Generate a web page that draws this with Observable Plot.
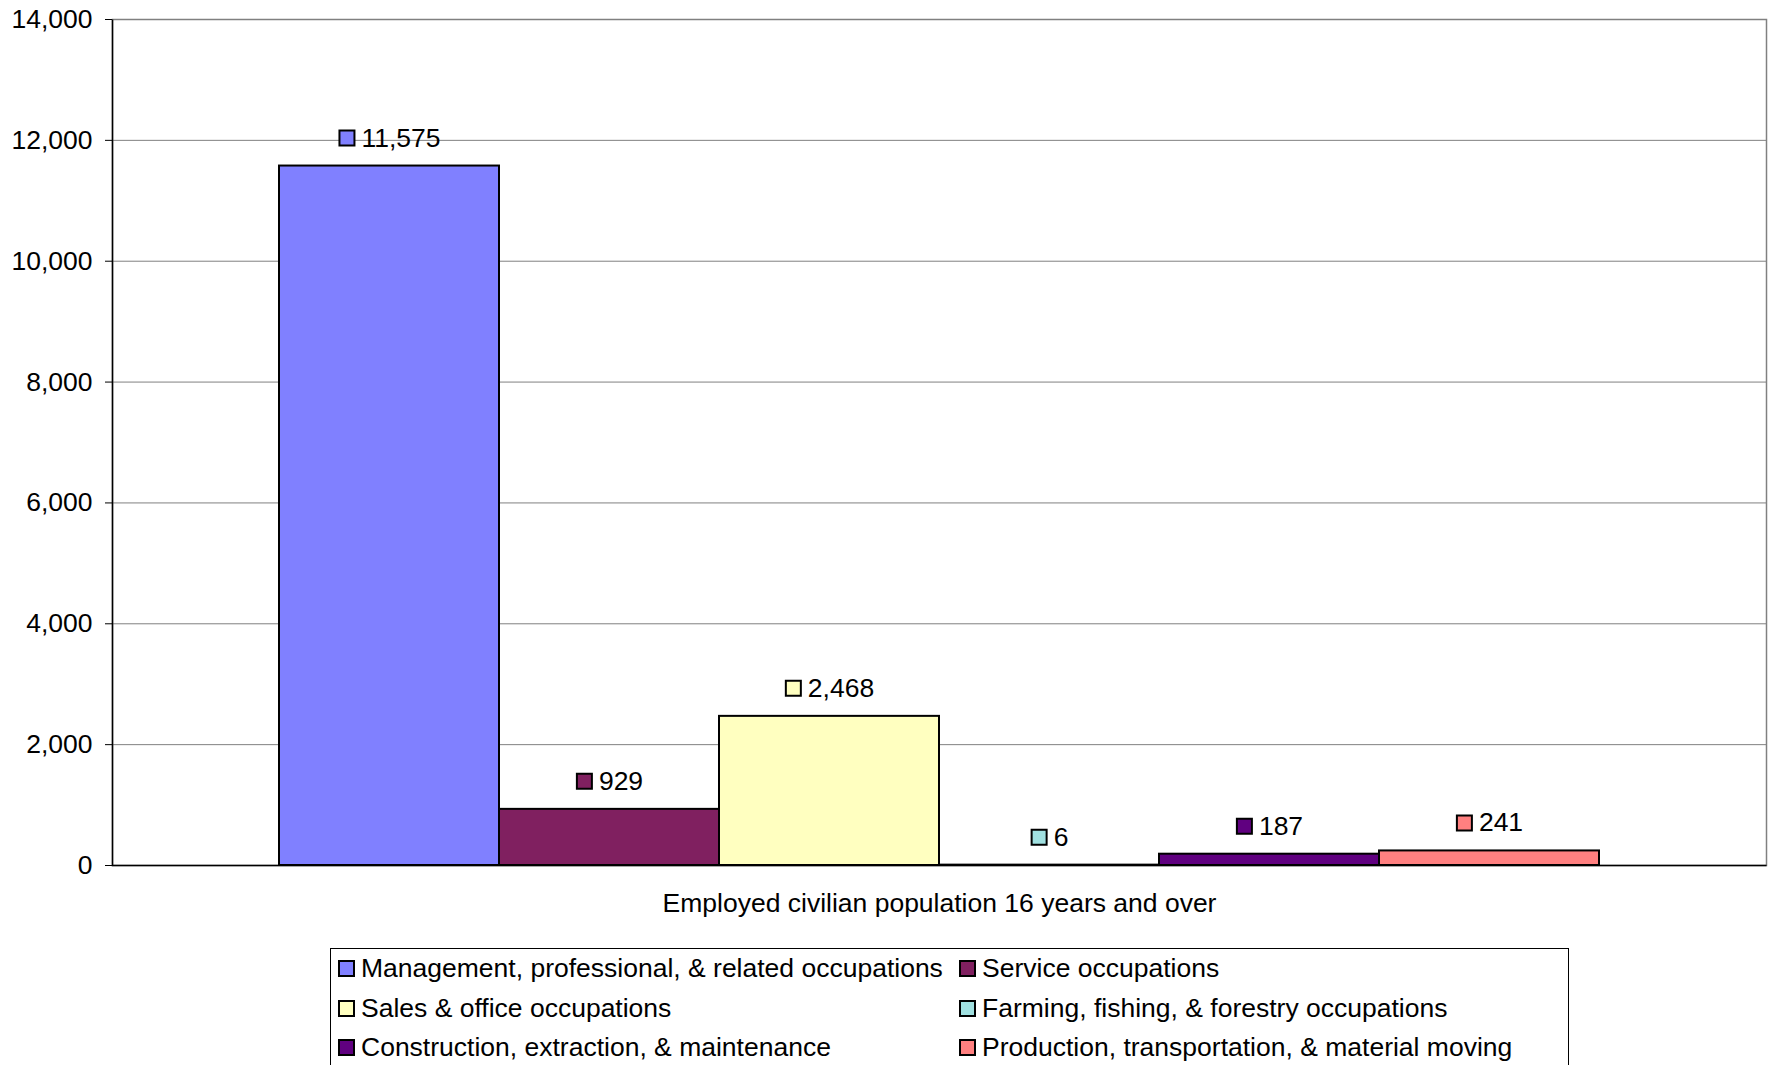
<!DOCTYPE html>
<html>
<head>
<meta charset="utf-8">
<script src="https://cdn.jsdelivr.net/npm/d3@7"></script>
<script src="https://cdn.jsdelivr.net/npm/@observablehq/plot@0.6"></script>
<style>
  html, body { margin: 0; padding: 0; background: #fff; overflow: hidden; }
  body { width: 1773px; height: 1065px; position: relative; font-family: "Liberation Sans", Arial, sans-serif; }
  #chart { position: absolute; left: 0; top: 0; }
  #legend {
    position: absolute; left: 330px; top: 948px; width: 1239px; height: 140px;
    box-sizing: border-box; border: 1px solid #000; background: #fff;
    display: grid; grid-template-columns: 621px 1fr; grid-auto-rows: 39.5px;
    padding: 0 0 0 7px; font-size: 26.5px; color: #000;
  }
  .item { display: flex; align-items: center; white-space: nowrap; }
  .sw { width: 13px; height: 13px; border: 2px solid #000; margin-right: 6px; flex: none; }
</style>
</head>
<body>
<div id="chart"></div>
<div id="legend"></div>
<script>
// ---- data ----
const category = "Employed civilian population 16 years and over";
const occupations = [
  "Management, professional, & related occupations",
  "Service occupations",
  "Sales & office occupations",
  "Farming, fishing, & forestry occupations",
  "Construction, extraction, & maintenance",
  "Production, transportation, & material moving"
];
const values = [11575, 929, 2468, 6, 187, 241];
const colors = ["#8080FF", "#802060", "#FFFFC0", "#A0E0E0", "#600080", "#FF8080"];
const yTicks = [0, 2000, 4000, 6000, 8000, 10000, 12000, 14000];

const data = occupations.map((name, i) => ({name, value: values[i]}));
const fmt = d3.format(",");

const FS = 26.5;
const W = 1773, H = 935;
const mT = 19, mB = 70, mL = 112, mR = 7;
const fw = W - mL - mR, fh = H - mT - mB;

// measure label widths
const ctx = document.createElement("canvas").getContext("2d");
ctx.font = `${FS}px 'Liberation Sans', Arial, sans-serif`;
const swSide = 17, gap = 6;

const squareSymbol = {
  draw(context, size) {
    const s = Math.sqrt(size / Math.PI);
    context.rect(-s, -s, 2 * s, 2 * s);
  }
};

const labelMarks = data.flatMap((d) => {
  const tw = ctx.measureText(fmt(d.value)).width;
  const total = swSide + gap + tw;
  return [
    Plot.dot([d], {x: "name", y: "value", fill: "name", stroke: "#000", strokeWidth: 2,
      symbol: squareSymbol, r: 7.5, dx: -total / 2 + swSide / 2, dy: -28}),
    Plot.text([d], {x: "name", y: "value", text: (v) => fmt(v.value), textAnchor: "start",
      lineAnchor: "middle", fontSize: FS, fill: "#000", dx: -total / 2 + swSide + gap, dy: -28})
  ];
});

const chart = Plot.plot({
  width: W, height: H,
  marginTop: mT, marginBottom: mB, marginLeft: mL, marginRight: mR,
  style: {fontFamily: "'Liberation Sans', Arial, sans-serif", fontSize: `${FS}px`, background: "#fff", color: "#000"},
  x: {type: "band", domain: occupations, paddingInner: 0, paddingOuter: 0.75, axis: null},
  y: {domain: [0, 14000], ticks: yTicks, tickFormat: fmt},
  color: {domain: occupations, range: colors},
  marks: [
    Plot.ruleY(yTicks, {stroke: "#808080", strokeWidth: 1}),
    Plot.frame({stroke: "#808080", strokeWidth: 1.5}),
    Plot.frame({stroke: "#000", strokeWidth: 1.5, strokeDasharray: `0,${fw + fh},${fw + fh}`}),
    Plot.axisY({ticks: yTicks, tickSize: 7, tickPadding: 13, tickFormat: fmt, label: null, fontSize: FS}),
    Plot.barY(data, {x: "name", y: "value", fill: "name", stroke: "#000", strokeWidth: 2}),
    ...labelMarks,
    Plot.text([category], {frameAnchor: "bottom", dy: 38, lineAnchor: "middle", fontSize: FS, fill: "#000"})
  ]
});
document.getElementById("chart").appendChild(chart);

// legend
const legend = document.getElementById("legend");
occupations.forEach((name, i) => {
  const item = document.createElement("div");
  item.className = "item";
  const sw = document.createElement("span");
  sw.className = "sw";
  sw.style.background = colors[i];
  const t = document.createElement("span");
  t.textContent = name;
  item.appendChild(sw);
  item.appendChild(t);
  legend.appendChild(item);
});
</script>
</body>
</html>
